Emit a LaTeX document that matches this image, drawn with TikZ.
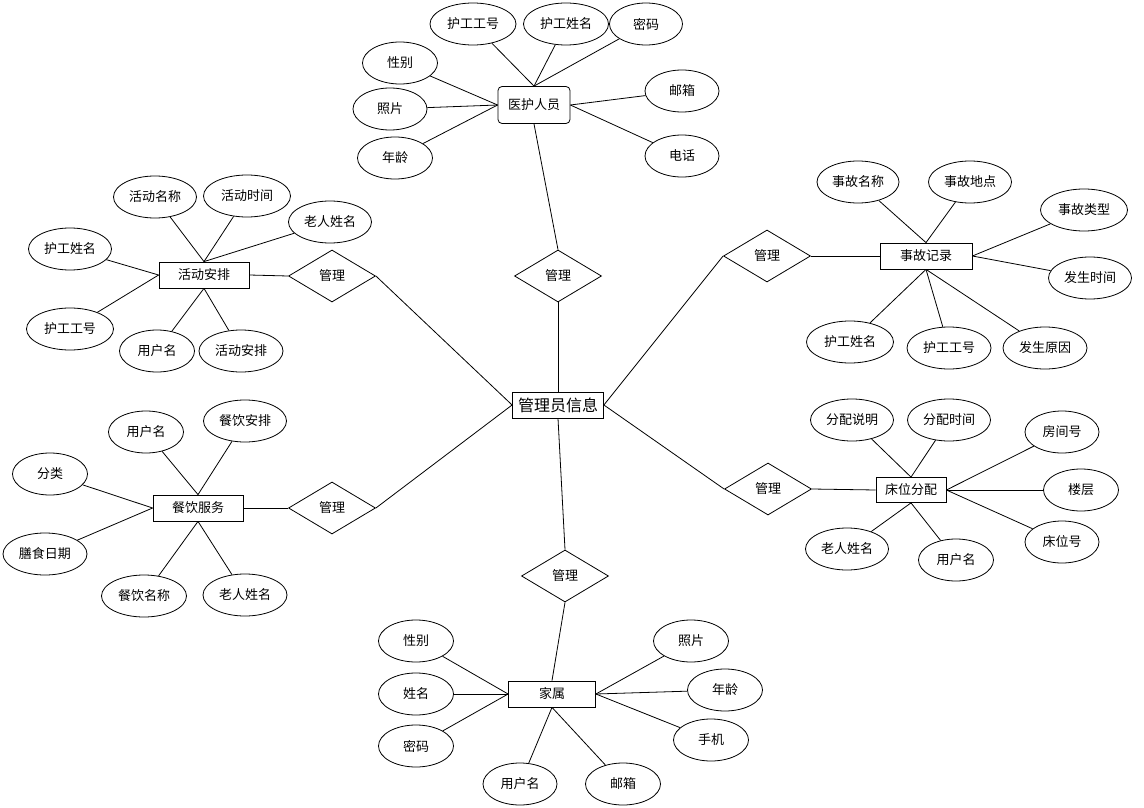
\documentclass[tikz,border=0pt]{standalone}
\usepackage{fontspec}
\setmainfont{Noto Sans CJK SC}
\usetikzlibrary{shapes.geometric}

\begin{document}
\begin{tikzpicture}[x=1pt,y=-1pt,line width=0.8pt,
  attr/.style={draw,ellipse,minimum height=42pt,inner sep=0pt,font=\fontsize{13}{15}\selectfont},
  ent/.style={draw,rectangle,minimum width=90pt,minimum height=26pt,inner sep=0pt,font=\fontsize{13}{15}\selectfont},
  rel/.style={draw,diamond,minimum width=87pt,minimum height=52pt,inner sep=0pt,font=\fontsize{13}{15}\selectfont}]
\useasboundingbox (0,0) rectangle (1144,808);

% Entities
\node[ent,minimum width=91pt,font=\fontsize{16}{18}\selectfont] (gl) at (558,405) {管理员信息};
\node[ent,rounded corners=4pt,minimum width=72pt,minimum height=37pt] (yh) at (534,105) {医护人员};
\node[ent] (hd) at (204,275) {活动安排};
\node[ent,minimum width=92pt] (sg) at (926,256) {事故记录};
\node[ent,minimum width=70pt,minimum height=25pt] (cw) at (911,490) {床位分配};
\node[ent] (cy) at (198,508) {餐饮服务};
\node[ent,minimum width=87pt] (js) at (552,694) {家属};

% Relations
\foreach \n/\x/\y in {r1/558/276,r2/332/276,r3/767/256,r4/768/489,r5/332/508,r6/565/576}
\node[rel] (\n) at (\x,\y) {管理};

\foreach \a/\b in {yh.south/r1.north,r1.south/gl.north,hd.east/r2.west,r2.east/gl.west,
  sg.west/r3.east,r3.west/gl.east,cw.west/r4.east,r4.west/gl.east,
  cy.east/r5.west,r5.east/gl.west,gl.south/r6.north,r6.south/js.north}
\draw (\a) -- (\b);

% Attributes
\foreach \n/\x/\y/\w/\t in {a1/473/24/86/护工工号,a2/566/24/85/护工姓名,a3/646/24/73/密码,
  a4/400/63/75/性别,a5/390/109/74/照片,a6/395/158/75/年龄,a7/682/91/74/邮箱,a8/682/156/74/电话,
  b1/155/197/83/活动名称,b2/247/196/87/活动时间,b3/330/222/83/老人姓名,b4/70/249/83/护工姓名,
  b5/70/329/87/护工工号,b6/157/351/75/用户名,b7/241/351/84/活动安排,
  c1/858/182/82/事故名称,c2/970/182/83/事故地点,c3/1084/210/87/事故类型,c4/1090/278/83/发生时间,
  c5/850/342/87/护工姓名,c6/949/348/84/护工工号,c7/1045/348/84/发生原因,
  d1/852/420/83/分配说明,d2/949/420/83/分配时间,d3/1062/432/74/房间号,d4/1081/490/75/楼层,
  d5/1062/542/74/床位号,d6/847/549/83/老人姓名,d7/956/560/75/用户名,
  e1/146/432/75/用户名,e2/245/421/83/餐饮安排,e3/50/474/75/分类,e4/45/554/84/膳食日期,
  e5/144/596/85/餐饮名称,e6/245/595/84/老人姓名,
  f1/416/641/75/性别,f2/416/694/75/姓名,f3/416/746/75/密码,f4/520/784/74/用户名,
  f5/623/784/75/邮箱,f6/691/641/75/照片,f7/725/690/75/年龄,f8/711/740/75/手机}
\node[attr,minimum width=\w] (\n) at (\x,\y) {\t};

\foreach \a/\b in {a1/yh.north,a2/yh.north,a3/yh.north,a4/yh.west,a5/yh.west,a6/yh.west,a7/yh.east,a8/yh.east,
  b1/hd.north,b2/hd.north,b3/hd.north,b4/hd.west,b5/hd.west,b6/hd.south,b7/hd.south,
  c1/sg.north,c2/sg.north,c3/sg.east,c4/sg.east,c5/sg.south,c6/sg.south,c7/sg.south,
  d1/cw.north,d2/cw.north,d3/cw.east,d4/cw.east,d5/cw.east,d6/cw.south,d7/cw.south,
  e1/cy.north,e2/cy.north,e3/cy.west,e4/cy.west,e5/cy.south,e6/cy.south,
  f1/js.west,f2/js.west,f3/js.west,f4/js.south,f5/js.south,f6/js.east,f7/js.east,f8/js.east}
\draw (\a) -- (\b);
\end{tikzpicture}
\end{document}
